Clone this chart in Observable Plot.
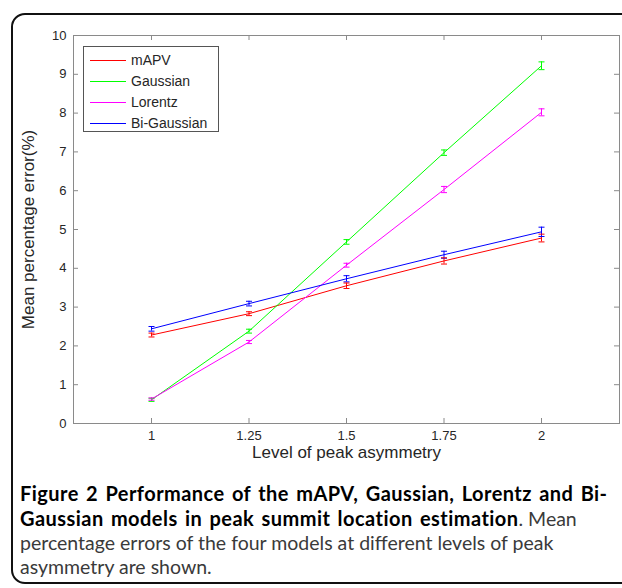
<!DOCTYPE html>
<html>
<head>
<meta charset="utf-8">
<script src="https://cdn.jsdelivr.net/npm/d3@7"></script>
<script src="https://cdn.jsdelivr.net/npm/@observablehq/plot@0.6"></script>
<style>
  html, body { margin: 0; padding: 0; background: #fff; }
  body { width: 622px; height: 588px; overflow: hidden; position: relative; font-family: "Liberation Sans", Arial, sans-serif; }
  #frame { position: absolute; left: 11px; top: 13px; width: 700px; height: 571px; border: 2px solid #111; border-radius: 14px; box-sizing: border-box; }
  #chart { position: absolute; left: 0; top: 0; }
  #legend { position: absolute; left: 83px; top: 46px; width: 136px; height: 86px; border: 1px solid #555; background: #fff; box-sizing: border-box; }
  .lg-row { position: absolute; left: 0; height: 20px; width: 134px; }
  .lg-line { position: absolute; left: 6px; top: 10px; width: 36px; height: 0; border-top: 1px solid; }
  .lg-text { position: absolute; left: 47px; top: 1px; font-size: 14px; color: #262626; line-height: 18px; white-space: nowrap; }
  #caption { position: absolute; left: 20px; top: 481px; width: 600px; font-family: Lato, sans-serif; font-size: 19.5px; line-height: 24px; color: #3a3a3a; white-space: nowrap; }
  #caption b { color: #000; font-weight: 700; font-size: 20px; letter-spacing: 0.45px; word-spacing: 2px; }
</style>
</head>
<body>
<div id="frame"></div>
<div id="chart"></div>
<div id="legend"></div>
<div id="caption"><b>Figure 2 Performance of the mAPV, Gaussian, Lorentz and Bi-<br>Gaussian models in peak summit location estimation</b>. Mean<br>percentage errors of the four models at different levels of peak<br>asymmetry are shown.</div>
<script>
// ---- data ----
const levels = [1, 1.25, 1.5, 1.75, 2];
const seriesNames = ["mAPV", "Gaussian", "Lorentz", "Bi-Gaussian"];
const seriesColors = ["#ff0000", "#00ff00", "#ff00ff", "#0000ff"];
const mAPV       = [2.28, 2.83, 3.55, 4.19, 4.78];
const gaussian   = [0.61, 2.38, 4.68, 6.98, 9.22];
const lorentz    = [0.63, 2.10, 4.08, 6.03, 8.02];
const biGaussian = [2.44, 3.09, 3.73, 4.35, 4.94];
const mAPVErr       = [0.05, 0.05, 0.07, 0.08, 0.10];
const gaussianErr   = [0.04, 0.05, 0.06, 0.07, 0.10];
const lorentzErr    = [0.03, 0.04, 0.05, 0.08, 0.09];
const biGaussianErr = [0.06, 0.06, 0.08, 0.09, 0.12];
const xTicks = [1, 1.25, 1.5, 1.75, 2];
const yTicks = [0, 1, 2, 3, 4, 5, 6, 7, 8, 9, 10];
const xLabel = "Level of peak asymmetry";
const yLabel = "Mean percentage error(%)";

const values = [mAPV, gaussian, lorentz, biGaussian];
const errors = [mAPVErr, gaussianErr, lorentzErr, biGaussianErr];
const rows = [];
seriesNames.forEach((name, i) => levels.forEach((x, j) => rows.push({name, x, y: values[i][j], e: errors[i][j]})));

const W = 622, H = 470;
const mL = 73, mR = 3, mT = 35, mB = 47;
const fw = W - mL - mR, fh = H - mT - mB;
const axisColor = "#8a8a8a";

const cap = {
  draw(ctx, size) {
    const r = Math.sqrt(size / Math.PI);
    ctx.moveTo(-r, 0);
    ctx.lineTo(r, 0);
  }
};

const chart = Plot.plot({
  width: W, height: H,
  marginLeft: mL, marginRight: mR, marginTop: mT, marginBottom: mB,
  style: {fontFamily: "'Liberation Sans', Arial, sans-serif", fontSize: "13px", color: "#262626", background: "transparent"},
  x: {domain: [0.8, 2.2]},
  y: {domain: [0, 10]},
  color: {domain: seriesNames, range: seriesColors},
  marks: [
    Plot.frame({stroke: axisColor}),
    Plot.tickX(xTicks, {x: d => d, insetTop: fh - 5, stroke: axisColor}),
    Plot.tickX(xTicks, {x: d => d, insetBottom: fh - 5, stroke: axisColor}),
    Plot.tickY(yTicks, {y: d => d, insetRight: fw - 5, stroke: axisColor}),
    Plot.tickY(yTicks, {y: d => d, insetLeft: fw - 5, stroke: axisColor}),
    Plot.axisX({ticks: xTicks, tickSize: 0, tickPadding: 7, tickFormat: d => String(d), label: null}),
    Plot.axisY({ticks: yTicks, tickSize: 0, tickPadding: 7, label: null}),
    Plot.line(rows, {x: "x", y: "y", z: "name", stroke: "name", strokeWidth: 1}),
    Plot.ruleX(rows, {x: "x", y1: d => d.y - d.e, y2: d => d.y + d.e, stroke: "name", strokeWidth: 1}),
    Plot.dot(rows, {x: "x", y: d => d.y - d.e, r: 3, symbol: cap, fill: "none", stroke: "name", strokeWidth: 1}),
    Plot.dot(rows, {x: "x", y: d => d.y + d.e, r: 3, symbol: cap, fill: "none", stroke: "name", strokeWidth: 1}),
    Plot.text([yLabel], {frameAnchor: "left", textAnchor: "middle", dx: -45, rotate: -90, fontSize: 17, fill: "#262626"}),
    Plot.text([xLabel], {frameAnchor: "bottom", textAnchor: "middle", dy: 34, fontSize: 17, fill: "#262626"})
  ]
});
document.getElementById("chart").appendChild(chart);

const legend = document.getElementById("legend");
seriesNames.forEach((name, i) => {
  const row = document.createElement("div");
  row.className = "lg-row";
  row.style.top = (3 + i * 21) + "px";
  const line = document.createElement("div");
  line.className = "lg-line";
  line.style.borderTopColor = seriesColors[i];
  const txt = document.createElement("div");
  txt.className = "lg-text";
  txt.textContent = name;
  row.appendChild(line);
  row.appendChild(txt);
  legend.appendChild(row);
});
</script>
</body>
</html>
